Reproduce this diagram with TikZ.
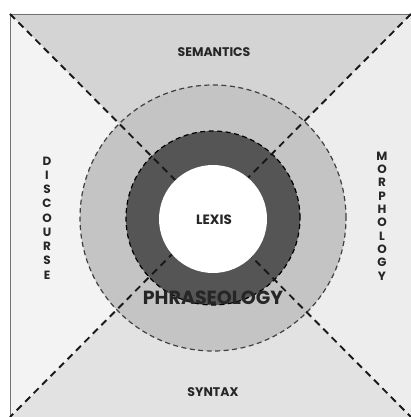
\documentclass[tikz,border=0pt]{standalone}
\usepackage{fontspec}
\setmainfont{Poppins}
\begin{document}
\begin{tikzpicture}[x=1pt,y=-1pt,
  lbl/.style={font=\bfseries\fontsize{12.5}{14}\selectfont, text=black!85, inner sep=0pt},
  vlbl/.style={font=\bfseries\fontsize{12}{#1}\selectfont, text=black!85, align=center, inner sep=0pt},
  diag/.style={line width=1.9pt, dash pattern=on 7pt off 5pt, draw=black!90},
  ringline/.style={line width=1.2pt, dash pattern=on 5pt off 3.5pt, draw=black!75}
]
\useasboundingbox (0,0) rectangle (411,417);
\fill[white] (0,0) rectangle (411,417);
\coordinate (tl) at (10,14);
\coordinate (tr) at (411,14);
\coordinate (bl) at (10,417);
\coordinate (br) at (411,417);
\coordinate (c) at (211,216);
% regions
\fill[fill={rgb,255:red,212;green,212;blue,212}] (tl) -- (tr) -- (c) -- cycle;
\fill[fill={rgb,255:red,226;green,226;blue,226}] (bl) -- (br) -- (c) -- cycle;
\fill[fill={rgb,255:red,243;green,243;blue,243}] (tl) -- (bl) -- (c) -- cycle;
\fill[fill={rgb,255:red,237;green,237;blue,237}] (tr) -- (br) -- (c) -- cycle;
\draw[line width=0.8pt, black!55] (br) -| (tl) -| (tr);
% circles
\node[circle, minimum size=266pt, inner sep=0pt, fill={rgb,255:red,196;green,196;blue,196}, ringline] (outer) at (213,218) {};
\node[circle, minimum size=174pt, inner sep=0pt, fill={rgb,255:red,85;green,85;blue,85}, ringline, draw=black] (ring) at (213,218) {};
% diagonals
\draw[diag] (tl) -- (br);
\draw[diag] (tr) -- (bl);
\node[circle, minimum size=108pt, inner sep=0pt, fill=white] (lexiscircle) at (213,219) {};
% labels
\node[lbl] (sem) at (214,52) {SEMANTICS};
\node[lbl] (syn) at (213,392) {SYNTAX};
\node[lbl, font=\bfseries\fontsize{13.5}{15}\selectfont] (lex) at (214,220) {LEXIS};
\node[font=\bfseries\fontsize{19}{22}\selectfont, text=black!85, inner sep=0pt] (phr) at (213,298) {PHRASEOLOGY};
\node[vlbl=14.25] (dis) at (47,218) {D\\I\\S\\C\\O\\U\\R\\S\\E};
\node[vlbl=13.3] (mor) at (382,216) {M\\O\\R\\P\\H\\O\\L\\O\\G\\Y};
\end{tikzpicture}
\end{document}
